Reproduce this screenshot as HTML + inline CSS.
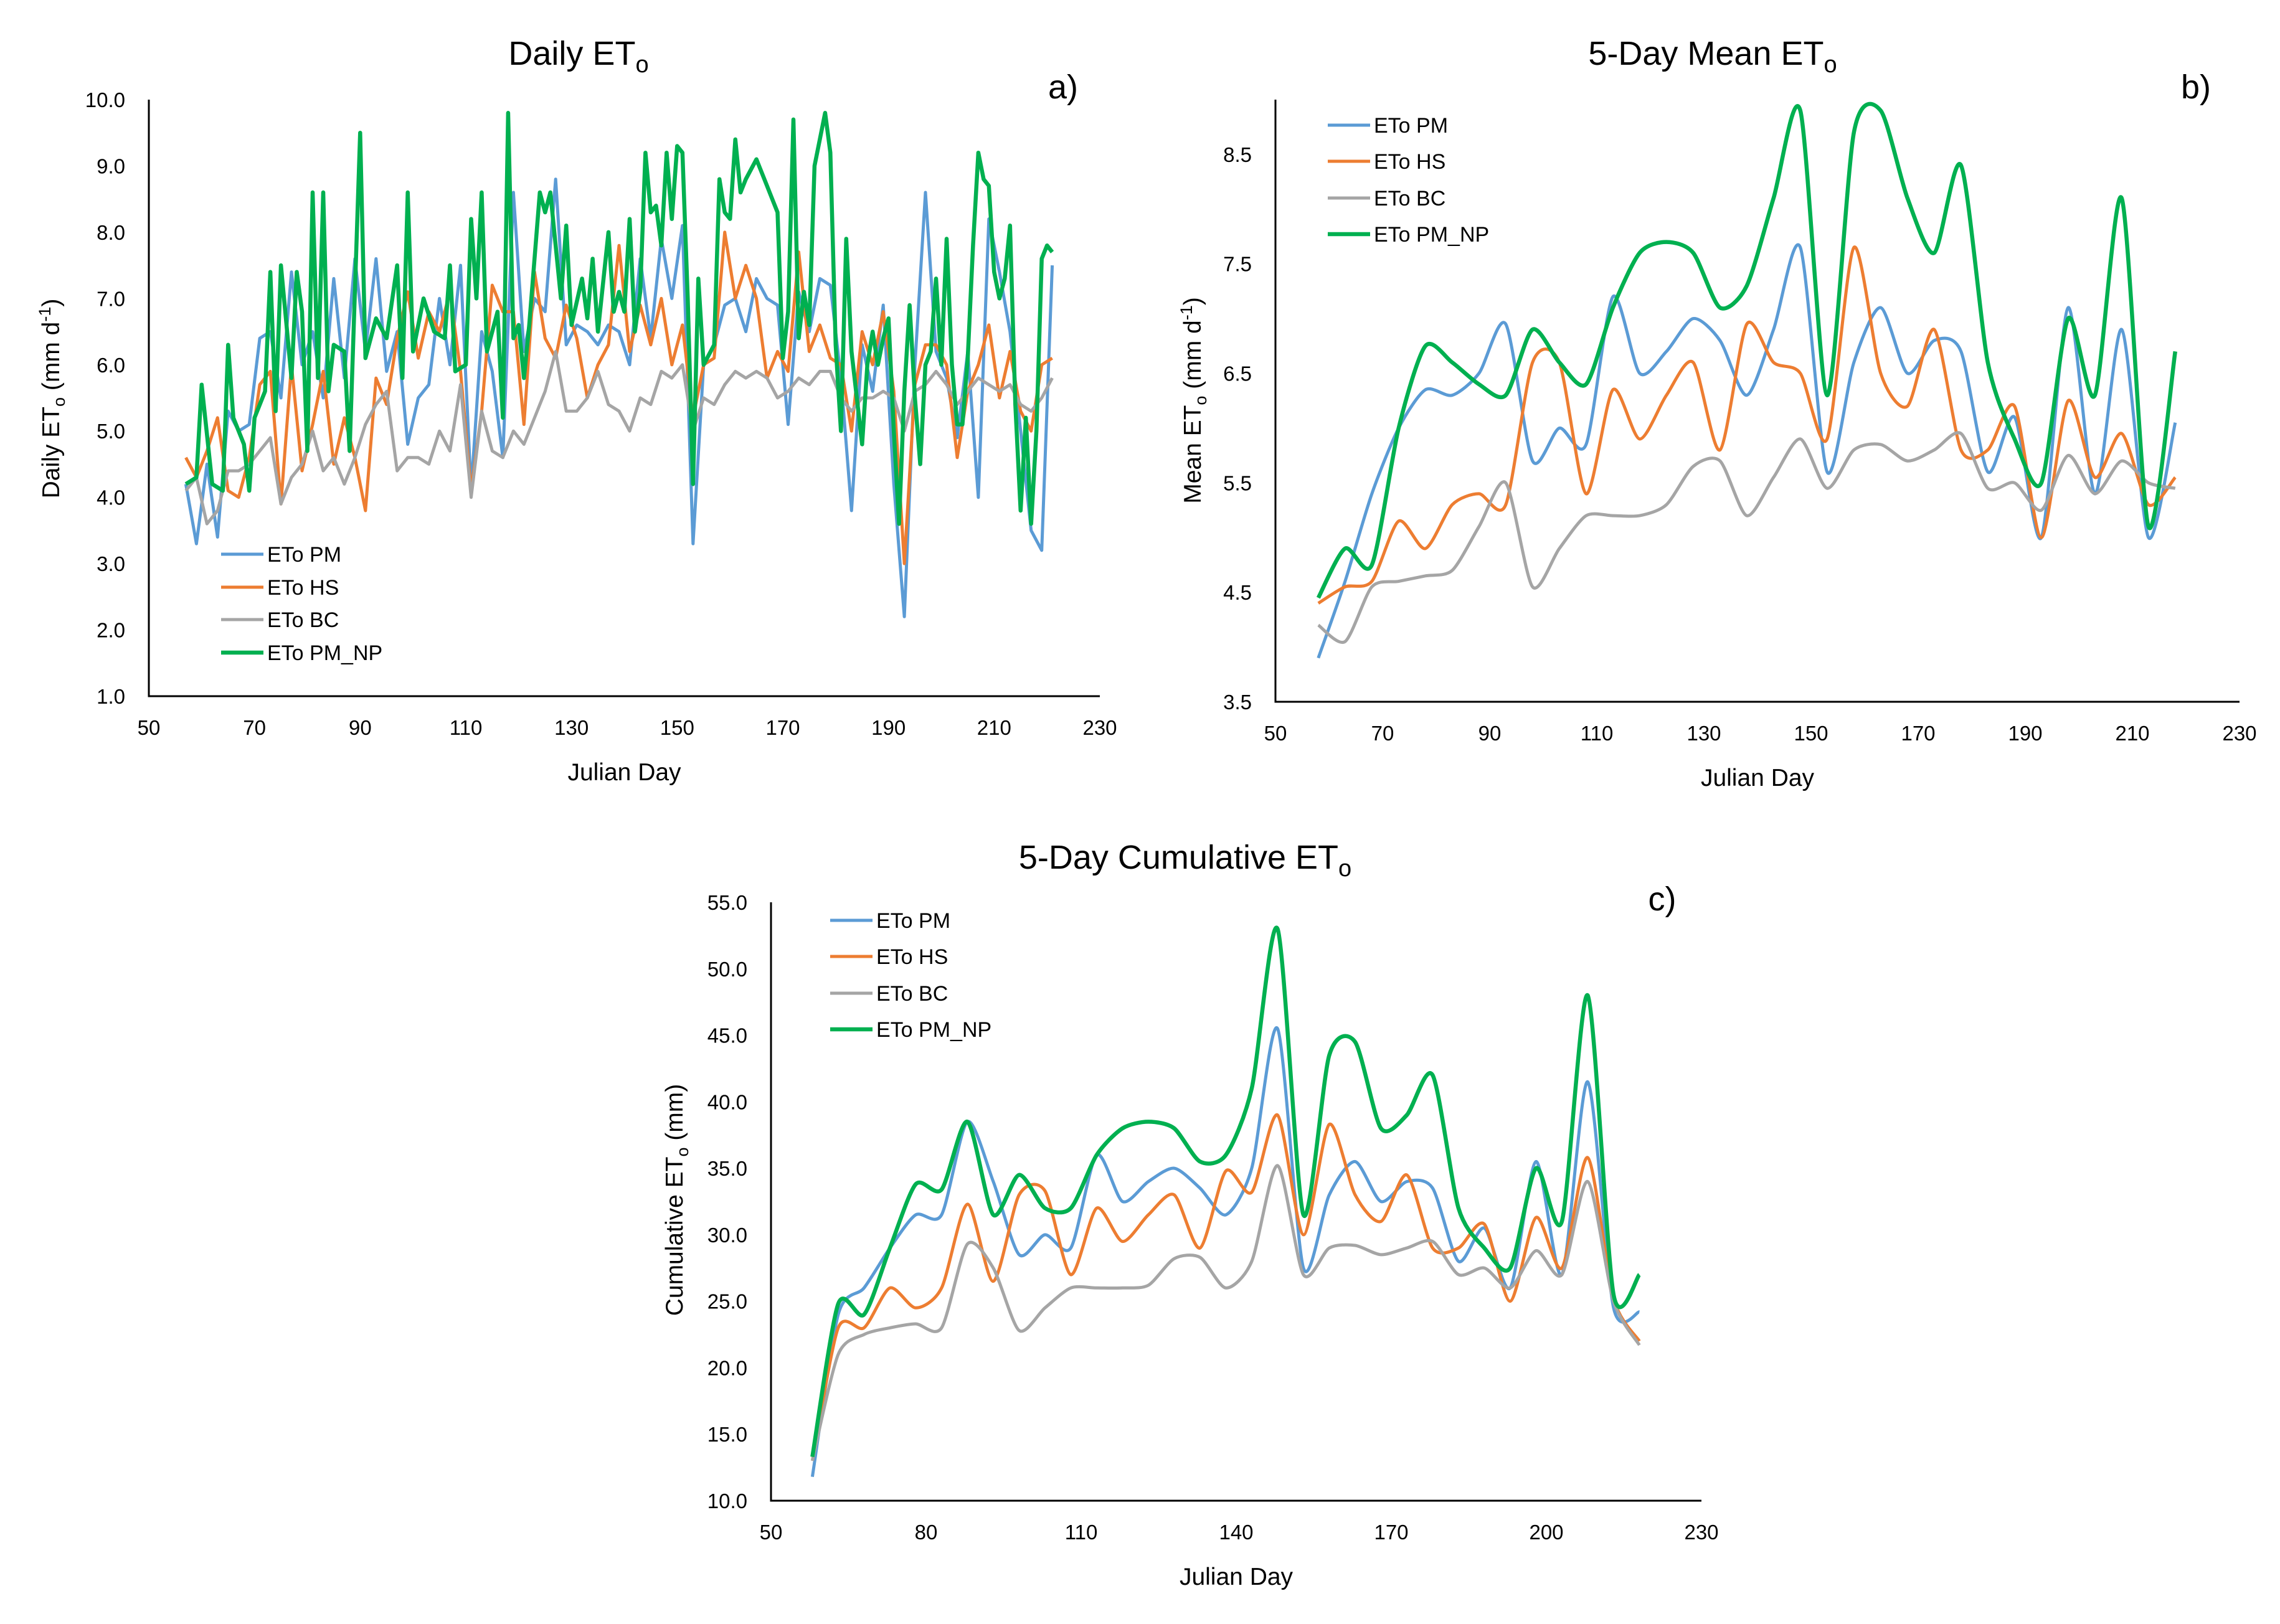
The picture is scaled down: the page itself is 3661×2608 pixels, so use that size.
<!DOCTYPE html>
<html><head><meta charset="utf-8"><style>
html,body{margin:0;padding:0;background:#fff;}
svg{display:block;font-family:"Liberation Sans","DejaVu Sans",sans-serif;}
</style></head><body>
<svg id="fig" width="3661" height="2608" viewBox="0 0 3661 2608" xmlns="http://www.w3.org/2000/svg">
<rect width="3661" height="2608" fill="#fff"/>
</svg>
<script>
// ---- Panel a data (Daily ETo) ----
const aDaysNP=[57,59,60,62,64,65,66,68,69,70,72,73,74,75,77,78,79,80,81,82,83,84,85,87,88,90,91,93,95,97,98,99,100,102,104,106,107,108,110,111,112,113,114,116,117,118,119,120,121,122,124,125,126,128,129,130,132,133,134,135,137,138,139,140,141,142,143,144,145,146,147,148,149,150,151,152,153,154,155,157,158,159,160,161,162,163,165,167,168,169,170,171,172,173,174,175,176,178,179,180,181,182,183,185,186,187,188,189,190,191,192,193,194,195,196,197,198,199,200,201,202,203,204,205,206,207,208,209,210,211,212,213,214,215,216,217,218,219,220,221];
const aPMNP=[4.2,4.3,5.7,4.2,4.1,6.3,5.2,4.8,4.1,5.2,5.6,7.4,5.3,7.5,5.8,7.4,6.8,4.7,8.6,5.8,8.6,5.6,6.3,6.2,4.7,9.5,6.1,6.7,6.4,7.5,5.8,8.6,6.2,7.0,6.5,6.4,7.5,5.9,6.0,8.2,7.0,8.6,6.2,6.8,5.2,9.8,6.4,6.6,5.8,6.6,8.6,8.3,8.6,7.0,8.1,6.6,7.3,6.7,7.6,6.5,8.0,6.8,7.1,6.8,8.2,6.5,7.1,9.2,8.3,8.4,7.8,9.2,8.2,9.3,9.2,7.0,4.2,7.3,6.0,6.3,8.8,8.3,8.2,9.4,8.6,8.8,9.1,8.7,8.5,8.3,6.1,6.8,9.7,6.4,7.1,6.6,9.0,9.8,9.2,6.3,5.0,7.9,6.2,4.8,6.0,6.5,6.0,6.4,6.7,5.0,3.6,5.6,6.9,5.5,4.5,6.0,6.2,7.3,6.0,7.9,6.0,5.1,5.1,6.1,7.8,9.2,8.8,8.7,7.4,7.0,7.3,8.1,5.4,3.8,5.2,3.6,5.0,7.6,7.8,7.7];
const aDays=[57,59,61,63,65,67,69,71,73,75,77,79,81,83,85,87,89,91,93,95,97,99,101,103,105,107,109,111,113,115,117,119,121,123,125,127,129,131,133,135,137,139,141,143,145,147,149,151,153,155,157,159,161,163,165,167,169,171,173,175,177,179,181,183,185,187,189,191,193,195,197,199,201,203,205,207,209,211,213,215,217,219,221];
const aPM=[4.2,3.3,4.5,3.4,5.3,5.0,5.1,6.4,6.5,5.5,7.4,6.0,6.5,5.5,7.3,5.8,7.6,6.2,7.6,5.9,6.5,4.8,5.5,5.7,7.0,6.0,7.5,4.1,6.5,5.9,4.6,8.6,6.2,7.0,6.8,8.8,6.3,6.6,6.5,6.3,6.6,6.5,6.0,7.6,6.4,7.9,7.0,8.1,3.3,6.0,6.3,6.9,7.0,6.5,7.3,7.0,6.9,5.1,7.1,6.5,7.3,7.2,5.8,3.8,6.3,5.6,6.9,4.2,2.2,6.0,8.6,6.2,5.8,4.9,6.2,4.0,8.2,7.4,6.5,5.0,3.5,3.2,7.5];
const aHS=[4.6,4.3,4.7,5.2,4.1,4.0,4.6,5.7,5.9,3.9,6.0,4.4,5.1,5.9,4.5,5.2,4.6,3.8,5.8,5.4,6.4,7.1,6.1,6.8,6.5,7.1,5.9,4.1,5.3,7.2,6.8,6.8,5.1,7.4,6.4,6.1,6.9,6.4,5.5,6.0,6.3,7.8,6.2,6.9,6.3,7.0,6.0,6.6,5.2,6.0,6.1,8.0,7.0,7.5,7.0,5.8,6.2,5.9,7.7,6.2,6.6,6.1,6.0,5.0,6.5,6.0,6.8,5.6,3.0,5.7,6.3,6.3,6.0,4.6,5.6,6.0,6.6,5.5,6.2,5.3,5.0,6.0,6.1];
const aBC=[4.1,4.3,3.6,3.8,4.4,4.4,4.5,4.7,4.9,3.9,4.3,4.5,5.0,4.4,4.6,4.2,4.6,5.1,5.4,5.6,4.4,4.6,4.6,4.5,5.0,4.7,5.7,4.0,5.3,4.7,4.6,5.0,4.8,5.2,5.6,6.2,5.3,5.3,5.5,5.9,5.4,5.3,5.0,5.5,5.4,5.9,5.8,6.0,5.0,5.5,5.4,5.7,5.9,5.8,5.9,5.8,5.5,5.6,5.8,5.7,5.9,5.9,5.5,5.3,5.5,5.5,5.6,5.5,5.0,5.6,5.7,5.9,5.7,5.4,5.6,5.8,5.7,5.6,5.7,5.4,5.3,5.5,5.8];
const aYTicks=["1.0","2.0","3.0","4.0","5.0","6.0","7.0","8.0","9.0","10.0"];
const aXTicks=["50","70","90","110","130","150","170","190","210","230"];
// ---- Panel b data (5-day mean) ----
const bDays=[58,63,68,73,78,83,88,93,98,103,108,113,118,123,128,133,138,143,148,153,158,163,168,173,178,183,188,193,198,203,208,213,218];
const bPMNP=[4.45,4.9,4.75,6.0,6.75,6.6,6.4,6.3,6.9,6.6,6.4,7.1,7.6,7.7,7.6,7.1,7.3,8.1,8.9,6.3,8.7,8.9,8.1,7.6,8.4,6.6,5.9,5.5,7.0,6.3,8.1,5.1,6.7];
const bPM=[3.9,4.6,5.4,6.0,6.35,6.3,6.5,6.95,5.7,6.0,5.85,7.2,6.5,6.7,7.0,6.8,6.3,6.9,7.65,5.6,6.6,7.1,6.5,6.8,6.7,5.6,6.1,5.0,7.1,5.4,6.9,5.0,6.05];
const bHS=[4.4,4.55,4.6,5.15,4.9,5.3,5.4,5.3,6.6,6.6,5.4,6.35,5.9,6.3,6.6,5.8,6.95,6.6,6.5,5.9,7.65,6.5,6.2,6.9,5.8,5.8,6.2,5.0,6.25,5.55,5.95,5.3,5.55];
const bBC=[4.2,4.05,4.55,4.6,4.65,4.7,5.1,5.5,4.55,4.9,5.2,5.2,5.2,5.3,5.65,5.7,5.2,5.55,5.9,5.45,5.8,5.85,5.7,5.8,5.95,5.45,5.5,5.25,5.75,5.4,5.7,5.5,5.45];
const bYTicks=["3.5","4.5","5.5","6.5","7.5","8.5"];
const bXTicks=["50","70","90","110","130","150","170","190","210","230"];
// ---- Panel c data (5-day cumulative) ----
const cDays=[58,63,68,73,78,83,88,93,98,103,108,113,118,123,128,133,138,143,148,153,158,163,168,173,178,183,188,193,198,203,208,213,218];
const cPMNP=[13.3,24.8,24.0,29,33.8,33.4,38.5,31.5,34.5,32,32,36,38,38.5,38,35.5,36,41,53,31.5,43.5,44.5,38,39,42,32,29,27.5,35,31,48,25.5,27];
const cPM=[11.8,24,26,29,31.5,31.5,38.5,34,28.5,30,29,36,32.5,34,35,33.5,31.5,35,45.5,27.5,33,35.5,32.5,34,33.5,28,30.5,26,35.5,27,41.5,24.5,24.2];
const cHS=[13,23,23,26,24.5,26,32.3,26.5,33,33.3,27,32,29.5,31.5,33,29,34.8,33.2,39,30,38.3,33,31,34.5,29,29,30.8,25,31.3,27.5,35.8,25.2,22];
const cBC=[13,21,22.5,23,23.3,23,29.3,27.5,22.8,24.5,26,26,26,26.2,28.2,28.3,26,28,35.2,27,29,29.2,28.5,29,29.5,27,27.5,26,28.8,27,34,25,21.7];
const cYTicks=["10.0","15.0","20.0","25.0","30.0","35.0","40.0","45.0","50.0","55.0"];
const cXTicks=["50","80","110","140","170","200","230"];
const seriesNames=["ETo PM","ETo HS","ETo BC","ETo PM_NP"];

const NS="http://www.w3.org/2000/svg";
const svg=document.getElementById('fig');
const COL={pm:"#5B9BD5",hs:"#ED7D31",bc:"#A5A5A5",np:"#00B050"};
function mk(tag,attrs,parent){const e=document.createElementNS(NS,tag);for(const k in attrs)e.setAttribute(k,attrs[k]);(parent||svg).appendChild(e);return e;}
function linePath(pts){return pts.map((p,i)=>(i?"L":"M")+p[0].toFixed(1)+","+p[1].toFixed(1)).join("");}
function smoothPath(pts){let d="M"+pts[0][0].toFixed(1)+","+pts[0][1].toFixed(1);
 for(let i=0;i<pts.length-1;i++){const p0=pts[Math.max(0,i-1)],p1=pts[i],p2=pts[i+1],p3=pts[Math.min(pts.length-1,i+2)];
  const t=0.13;const c1=[p1[0]+(p2[0]-p0[0])*t,p1[1]+(p2[1]-p0[1])*t],c2=[p2[0]-(p3[0]-p1[0])*t,p2[1]-(p3[1]-p1[1])*t];
  d+="C"+c1[0].toFixed(1)+","+c1[1].toFixed(1)+" "+c2[0].toFixed(1)+","+c2[1].toFixed(1)+" "+p2[0].toFixed(1)+","+p2[1].toFixed(1);}
 return d;}

function panel(c){
 const g=mk('g',{});
 
 
 const xs=v=>c.x0+(v-c.xmin)/(c.xmax-c.xmin)*(c.x1-c.x0);
 const ys=v=>c.y1-(v-c.ymin)/(c.ymax-c.ymin)*(c.y1-c.y0);
 const t=mk('text',{x:c.tx,y:c.ty,'font-size':54,'text-anchor':'middle',fill:'#000'},g);
 
 
 t.appendChild(document.createTextNode(c.title+"ET"));
 const sub=mk('tspan',{'font-size':38,dy:12},t);sub.textContent="o";
 const lab=mk('text',{x:c.lx,y:c.ly,'font-size':54,'text-anchor':'middle',fill:'#000'},g);
 
 
 lab.textContent=c.label;
 const ser=[[c.pmD,c.pm,COL.pm,5,'pm'],[c.hsD,c.hs,COL.hs,5,'hs'],[c.bcD,c.bc,COL.bc,5,'bc'],[c.npD,c.np,COL.np,6.5,'np']];
 ser.forEach(s=>{const pts=s[0].map((d,i)=>[xs(d),ys(s[1][i])]);
  const p=mk('path',{d:c.smooth?smoothPath(pts):linePath(pts),fill:'none',stroke:s[2],'stroke-width':s[3],'stroke-linejoin':'round'},g);
  
  });
 const ax=mk('path',{d:`M${c.x0},${c.y0}V${c.y1}H${c.x1}`,fill:'none',stroke:'#000','stroke-width':3},g);
 
 
 c.yt.forEach(s=>{const e=mk('text',{x:c.x0-38,y:ys(parseFloat(s))+12,'font-size':33,'text-anchor':'end',fill:'#000'},g);
  
  
  e.textContent=s;});
 c.xt.forEach(s=>{const e=mk('text',{x:xs(parseFloat(s)),y:c.y1+62,'font-size':33,'text-anchor':'middle',fill:'#000'},g);
  
  
  e.textContent=s;});
 const xt=mk('text',{x:(c.x0+c.x1)/2,y:c.y1+135,'font-size':39,'text-anchor':'middle',fill:'#000'},g);
 
 
 xt.textContent="Julian Day";
 const yt=mk('text',{transform:`translate(${c.ytx},${c.yty}) rotate(-90)`,'font-size':39,'text-anchor':'middle',fill:'#000'},g);
 
 
 yt.appendChild(document.createTextNode(c.ytitle[0]+"ET"));
 const s2=mk('tspan',{'font-size':27,dy:9},yt);s2.textContent="o";
 const s3=mk('tspan',{dy:-9},yt);s3.textContent=c.ytitle[1];
 if(c.sup){const s4=mk('tspan',{'font-size':27,dy:-14},yt);s4.textContent="-1";const s5=mk('tspan',{dy:14},yt);s5.textContent=")";}
 const cols=[COL.pm,COL.hs,COL.bc,COL.np];
 seriesNames.forEach((n,i)=>{const y=c.legY[i];
  const lg=mk('g',{},g);
  
  
  mk('line',{x1:c.legX,x2:c.legX+68,y1:y,y2:y,stroke:cols[i],'stroke-width':i==3?6.5:5},lg);
  const tx=mk('text',{x:c.legX+74,y:y+12,'font-size':34,fill:'#000'},lg);tx.textContent=n;});
}

panel({id:'daily',title:'Daily ',label:'a)',tx:929,ty:104,lx:1707,ly:158,x0:239,x1:1766,y0:160,y1:1118,xmin:50,xmax:230,ymin:1,ymax:10,
 pmD:aDays,pm:aPM,hsD:aDays,hs:aHS,bcD:aDays,bc:aBC,npD:aDaysNP,np:aPMNP,yt:aYTicks,xt:aXTicks,smooth:false,
 ytx:95,yty:640,ytitle:['Daily ',' (mm d'],sup:true,legX:355,legY:[890,943,995,1048]});
panel({id:'mean',title:'5-Day Mean ',label:'b)',tx:2750,ty:104,lx:3526,ly:158,x0:2048,x1:3596,y0:160,y1:1127,xmin:50,xmax:230,ymin:3.5,ymax:9.0,
 pmD:bDays,pm:bPM,hsD:bDays,hs:bHS,bcD:bDays,bc:bBC,npD:bDays,np:bPMNP,yt:bYTicks,xt:bXTicks,smooth:true,
 ytx:1928,yty:643,ytitle:['Mean ',' (mm d'],sup:true,legX:2132,legY:[201,259,318,376]});
panel({id:'cumulative',title:'5-Day Cumulative ',label:'c)',tx:1903,ty:1395,lx:2669,ly:1462,x0:1238,x1:2732,y0:1449,y1:2410,xmin:50,xmax:230,ymin:10,ymax:55,
 pmD:cDays,pm:cPM,hsD:cDays,hs:cHS,bcD:cDays,bc:cBC,npD:cDays,np:cPMNP,yt:cYTicks,xt:cXTicks,smooth:true,
 ytx:1096,yty:1927,ytitle:['Cumulative ',' (mm)'],sup:false,legX:1333,legY:[1478,1536,1595,1653]});
</script>
</body></html>
